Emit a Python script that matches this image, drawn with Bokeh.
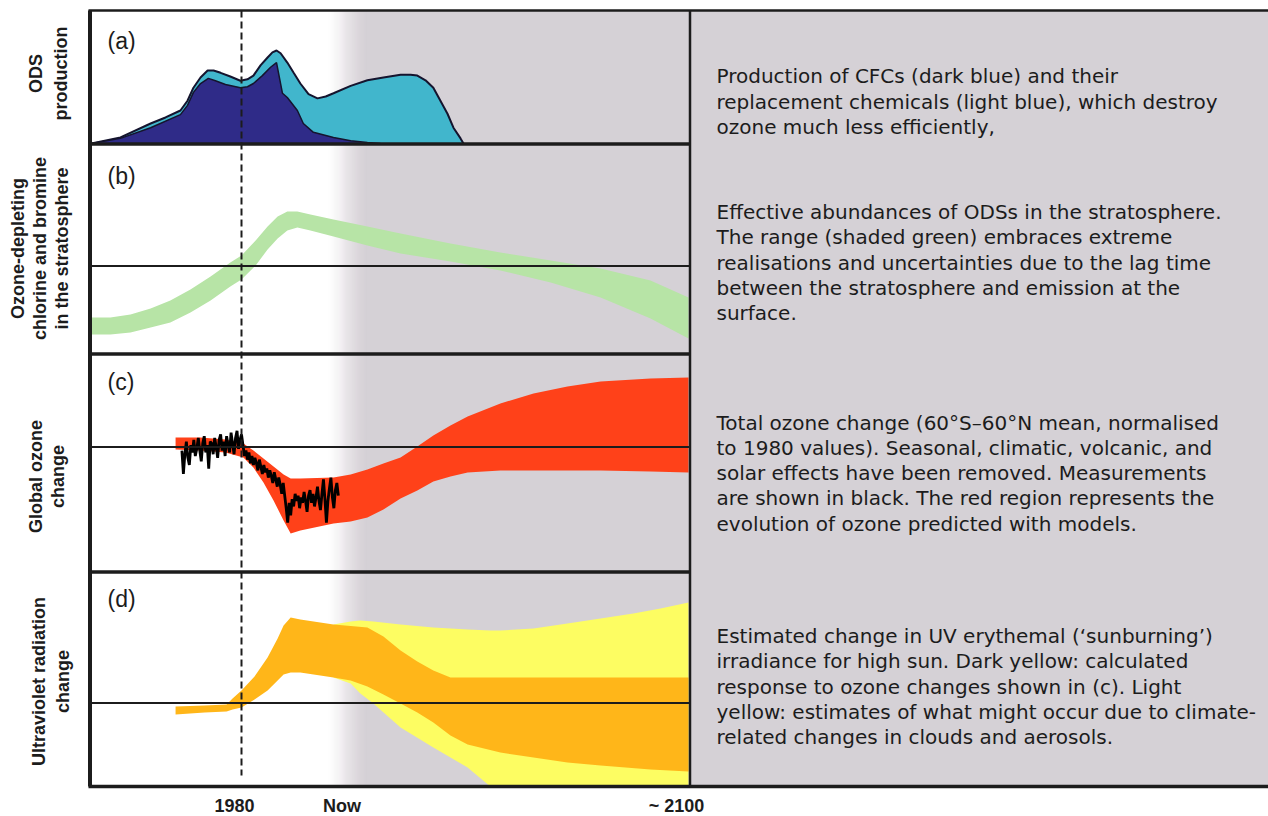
import math
from bokeh.plotting import figure
from bokeh.models import Range1d
from bokeh.core.properties import value
from bokeh.embed import file_html
from bokeh.resources import INLINE

# ------------------------------------------------------------------
# Data (schematic values in relative units)
# ------------------------------------------------------------------
# (a) ODS production, relative to the late-1980s peak (total = CFCs + replacements)
ods_total_year = [1939.7, 1947.5, 1955.6, 1959.6, 1963.6, 1965.5, 1967.1, 1969.0, 1970.9,
                  1972.5, 1974.4, 1977.0, 1979.7, 1981.6, 1983.2, 1985.1, 1987.0, 1988.3,
                  1989.4, 1990.5, 1992.3, 1994.0, 1995.8, 1998.0, 2000.4, 2002.6, 2004.7,
                  2009.3, 2013.8, 2018.1, 2022.7, 2025.4, 2027.2, 2029.4, 2031.5, 2033.4,
                  2035.3, 2036.9, 2038.8, 2039.6]
ods_total = [0.0, 0.065, 0.215, 0.28, 0.355, 0.46, 0.60, 0.71, 0.785,
             0.785, 0.76, 0.72, 0.675, 0.69, 0.73, 0.84, 0.925, 0.98,
             1.0, 0.97, 0.87, 0.76, 0.645, 0.53, 0.485, 0.505, 0.54,
             0.62, 0.68, 0.71, 0.74, 0.74, 0.73, 0.68, 0.60, 0.46,
             0.32, 0.17, 0.055, 0.0]
cfc_year = [1939.7, 1947.5, 1955.6, 1963.6, 1965.5, 1967.1, 1969.0, 1971.1, 1973.0,
            1975.7, 1979.7, 1981.6, 1983.2, 1985.6, 1987.8, 1989.4, 1991.0, 1992.3,
            1995.0, 1996.6, 1999.3, 2004.7, 2009.3, 2013.8, 2017.3]
cfc = [0.0, 0.055, 0.17, 0.31, 0.41, 0.55, 0.645, 0.70, 0.675,
       0.635, 0.60, 0.61, 0.645, 0.73, 0.82, 0.87, 0.54, 0.495,
       0.355, 0.215, 0.12, 0.065, 0.03, 0.01, 0.0]

# (b) effective stratospheric chlorine + bromine, 1980 = 1
eesc_year = [1939.7, 1944.8, 1950.2, 1955.6, 1960.9, 1966.3, 1971.7, 1977.0, 1980.0,
             1983.8, 1987.0, 1989.7, 1992.3, 1995.0, 1998.5, 2004.7, 2013.8, 2022.7,
             2036.1, 2049.5, 2063.0, 2076.4, 2089.8, 2100.0]
eesc_low = [0.315, 0.315, 0.335, 0.385, 0.435, 0.535, 0.655, 0.795, 0.865,
            1.005, 1.165, 1.275, 1.355, 1.385, 1.355, 1.295, 1.205, 1.125,
            1.045, 0.955, 0.835, 0.685, 0.475, 0.275]
eesc_high = [0.485, 0.485, 0.515, 0.575, 0.655, 0.765, 0.895, 1.035, 1.105,
             1.255, 1.395, 1.495, 1.545, 1.545, 1.515, 1.465, 1.395, 1.325,
             1.225, 1.135, 1.055, 0.975, 0.855, 0.685]

# (c) global total ozone change (%), model range
ozone_model_year = [1962.3, 1969.0, 1975.7, 1980.5, 1983.2, 1985.9, 1988.6, 1991.3, 1993.2,
                    1995.8, 2004.7, 2009.3, 2013.8, 2018.1, 2022.7, 2027.2, 2031.5, 2036.1,
                    2040.7, 2049.5, 2058.4, 2067.5, 2076.4, 2089.8, 2100.0]
ozone_model_high = [0.53, 0.53, 0.42, 0.19, -0.19, -0.64, -1.08, -1.53, -1.75,
                    -1.75, -1.69, -1.53, -1.25, -0.92, -0.58, 0.03, 0.64, 1.19,
                    1.69, 2.42, 2.97, 3.36, 3.64, 3.81, 3.86]
ozone_model_low = [-0.14, -0.19, -0.31, -0.58, -1.14, -1.97, -2.97, -4.08, -4.81,
                   -4.64, -4.25, -4.14, -3.92, -3.47, -2.86, -2.42, -1.92, -1.64,
                   -1.42, -1.31, -1.31, -1.31, -1.31, -1.36, -1.42]

# (c) measured ozone change (%), 1964.0-2006.0 every 0.4 yr
ozone_obs_start = 1964.0
ozone_obs_step = 0.4
ozone_obs = [
    -0.2, -1.5, -0.4, 0.3, -0.6, -1.0, 0.1, -0.3, 0.4, -0.5,
    -0.1, 0.5, -0.2, -0.8, 0.2, 0.6, -0.3, 0.1, -1.2, 0.3,
    0.2, -0.4, 0.5, 0.0, -0.6, 0.4, 0.7, -0.2, 0.3, -0.5,
    0.6, 0.1, -0.3, 0.8, 0.2, -0.4, 0.5, 0.9, -0.1, 0.4, 0.7,
    0.1, -0.5, -0.2, -0.7, -0.3, -0.9, -0.5, -1.0, -0.6, -0.9,
    -1.3, -0.7, -1.1, -1.5, -1.0, -1.4, -1.2, -1.7, -1.3, -1.6,
    -2.0, -1.4, -1.8, -2.2, -1.7, -2.1, -2.6, -2.0, -2.7, -3.4,
    -4.2, -3.1, -3.8,
    -2.9, -3.3, -2.6, -3.0, -2.7, -3.4, -2.8, -3.1, -2.5, -3.0,
    -3.6, -2.7, -2.4, -3.1, -2.6, -3.3, -2.8, -2.2, -3.0, -3.5,
    -2.6, -1.8, -2.9, -4.2, -3.0, -2.3, -1.7, -2.8, -3.4, -2.4,
    -2.0, -2.7,
]

# (d) UV change (%): ozone-driven (dark yellow) and climate range (light yellow)
uv_year = [1962.3, 1970.1, 1976.0, 1977.6, 1980.0, 1983.5, 1987.0, 1989.7, 1991.3,
           1993.2, 1995.8, 2004.7, 2009.3, 2013.8, 2018.1, 2022.7, 2027.2, 2031.5,
           2036.1, 2040.7, 2049.5, 2058.4, 2067.5, 2076.4, 2089.8, 2100.0]
uv_high = [-0.44, -0.31, -0.19, 0.56, 1.56, 3.31, 5.69, 8.06, 9.69,
           10.69, 10.44, 9.81, 9.63, 9.44, 8.31, 6.56, 5.19, 4.06,
           3.19, 3.19, 3.19, 3.19, 3.19, 3.19, 3.19, 3.19]
uv_low = [-1.44, -1.19, -1.06, -0.81, -0.56, 0.44, 1.56, 2.81, 3.56,
          3.81, 3.81, 3.19, 2.81, 2.06, 1.06, -0.06, -1.19, -2.44,
          -4.06, -5.19, -6.19, -6.81, -7.44, -7.81, -8.31, -8.56]
uv_clim_year = [2004.7, 2009.3, 2011.9, 2015.4, 2022.7, 2031.5, 2040.7, 2046.8, 2049.5,
                2058.4, 2067.5, 2076.4, 2085.2, 2092.5, 2100.0]
uv_clim_high = [9.81, 10.19, 10.31, 10.19, 9.81, 9.44, 9.19, 9.06, 9.06,
                9.31, 9.94, 10.56, 11.19, 11.81, 12.56]
uv_clim_low = [3.19, 2.44, 1.19, -0.06, -3.06, -5.56, -8.06, -10.44, -10.44,
               -10.44, -10.44, -10.44, -10.44, -10.44, -10.44]

tick_years = [1980, 2007, 2100]
tick_labels = ["1980", "Now", "~ 2100"]

panel_tags = ["(a)", "(b)", "(c)", "(d)"]
panel_titles = [
    ["ODS", "production"],
    ["Ozone-depleting", "chlorine and bromine", "in the stratosphere"],
    ["Global ozone", "change"],
    ["Ultraviolet radiation", "change"],
]
notes = [
    ["Production of CFCs (dark blue) and their",
     "replacement chemicals (light blue), which destroy",
     "ozone much less efficiently,"],
    ["Effective abundances of ODSs in the stratosphere.",
     "The range (shaded green) embraces extreme",
     "realisations and uncertainties due to the lag time",
     "between the stratosphere and emission at the",
     "surface."],
    ["Total ozone change (60°S\u201360°N mean, normalised",
     "to 1980 values). Seasonal, climatic, volcanic, and",
     "solar effects have been removed. Measurements",
     "are shown in black. The red region represents the",
     "evolution of ozone predicted with models."],
    ["Estimated change in UV erythemal (\u2018sunburning\u2019)",
     "irradiance for high sun. Dark yellow: calculated",
     "response to ozone changes shown in (c). Light",
     "yellow: estimates of what might occur due to climate-",
     "related changes in clouds and aerosols."],
]

# ------------------------------------------------------------------
# Layout geometry (canvas pixels)
# ------------------------------------------------------------------
W, H = 1268, 816
X_1980 = 241.0
PX_PER_YEAR = 3.725
LEFT, SPLIT = 89.5, 689.5
TOP, BOTTOM = 10.0, 786.0
PANEL_EDGES = [143.5, 353.5, 571.5]
ZERO_LINES = [265.5, 446.5, 702.5]
GRADIENT = (328.0, 368.0)

GRAY = "#d5d1d6"
DARK_BLUE = "#2f2b88"
LIGHT_BLUE = "#41b6cc"
GREEN = "#b7e4a6"
RED = "#ff4119"
ORANGE = "#ffb619"
YELLOW = "#fdfd62"
INK = "#1c1c1c"
FONT = "Liberation Sans"
NOTE_FONT = "DejaVu Sans"

# each panel: (pixel row of value 0, pixels per unit)
panel_scale = {"a": (143.0, 93.0), "b": (365.5, 100.0), "c": (446.5, 18.0), "d": (702.5, 8.0)}


def panel_range(px0, ppu):
    return Range1d((px0 - H) / ppu, px0 / ppu)


p = figure(width=W, height=H, output_backend="svg", toolbar_location=None,
           x_axis_location=None, y_axis_location=None, min_border=0,
           x_range=Range1d(1980 - X_1980 / PX_PER_YEAR, 1980 + (W - X_1980) / PX_PER_YEAR),
           y_range=Range1d(H, 0))
p.outline_line_color = None
p.grid.visible = False
p.background_fill_color = "white"
p.border_fill_color = "white"
p.extra_x_ranges = {"px": Range1d(0, W)}
p.extra_y_ranges = {k: panel_range(*v) for k, v in panel_scale.items()}

# grey backdrop for the projection period, fading in from the left:
# stacked translucent layers whose combined opacity rises linearly
n_steps = int(GRADIENT[1] - GRADIENT[0])
p.quad(left=[GRADIENT[0] + i for i in range(n_steps)], right=W, top=TOP, bottom=BOTTOM,
       fill_color=GRAY, fill_alpha=[1.0 / (n_steps - i) for i in range(n_steps)],
       line_color=None, x_range_name="px")

# (a) production
p.varea(x=ods_total_year, y1=0, y2=ods_total, fill_color=LIGHT_BLUE, y_range_name="a")
p.line(ods_total_year, ods_total, line_color="#15142e", line_width=2, y_range_name="a")
p.varea(x=cfc_year, y1=0, y2=cfc, fill_color=DARK_BLUE, y_range_name="a")
p.line(cfc_year, cfc, line_color="#15142e", line_width=1.5, y_range_name="a")

# (b) stratospheric halogens
p.varea(x=eesc_year, y1=eesc_low, y2=eesc_high, fill_color=GREEN, y_range_name="b")

# (c) ozone
p.varea(x=ozone_model_year, y1=ozone_model_low, y2=ozone_model_high, fill_color=RED,
        y_range_name="c")
obs_x = [ozone_obs_start + ozone_obs_step * i for i in range(len(ozone_obs))]
p.line(obs_x, ozone_obs, line_color="black", line_width=2.8, y_range_name="c")

# (d) UV
p.varea(x=uv_clim_year, y1=uv_clim_low, y2=uv_clim_high, fill_color=YELLOW, y_range_name="d")
p.varea(x=uv_year, y1=uv_low, y2=uv_high, fill_color=ORANGE, y_range_name="d")

# frame lines
p.segment(x0=[LEFT, 88, 88, SPLIT], y0=[TOP, TOP, BOTTOM, TOP],
          x1=[LEFT, W, W, SPLIT], y1=[BOTTOM, TOP, BOTTOM, BOTTOM],
          line_color=INK, line_width=[4, 2.5, 3.5, 2.5], x_range_name="px")
p.segment(x0=88, y0=PANEL_EDGES, x1=SPLIT, y1=PANEL_EDGES, line_color=INK,
          line_width=3.5, x_range_name="px")
p.segment(x0=88, y0=ZERO_LINES, x1=SPLIT, y1=ZERO_LINES, line_color=INK,
          line_width=2, x_range_name="px")
p.segment(x0=1980, y0=TOP, x1=1980, y1=775, line_color=INK, line_width=2,
          line_dash="7 4")

# panel tags and side titles
tag_rows = [40, 175, 381, 598]
p.text(x=107, y=tag_rows, text=panel_tags, x_range_name="px",
       text_font=value(FONT), text_font_size="23px", text_color=INK,
       text_align="left", text_baseline="middle")

title_rows = [73, 248, 476, 681]
title_cols = [[35, 60], [17, 39, 61], [35, 57], [38, 62]]
for lines, cols, row in zip(panel_titles, title_cols, title_rows):
    p.text(x=cols, y=row, text=lines, angle=math.pi / 2, x_range_name="px",
           text_font=value(FONT), text_font_size="18px", text_font_style="bold",
           text_color=INK, text_align="center", text_baseline="middle")

# time labels
p.text(x=tick_years, y=805, text=tick_labels, x_offset=[-7, 0, -12],
       text_font=value(FONT), text_font_size="18px", text_font_style="bold",
       text_color=INK, text_align="center", text_baseline="middle")

# explanatory notes
note_rows = [75.7, 211.5, 422.0, 635.5]
LINE_STEP = 25.3
for lines, row in zip(notes, note_rows):
    p.text(x=716, y=[row + LINE_STEP * i for i in range(len(lines))], text=lines,
           x_range_name="px", text_font=value(NOTE_FONT), text_font_size="20px",
           text_color=INK, text_align="left", text_baseline="middle")

open("out.html", "w").write(file_html(p, INLINE))
